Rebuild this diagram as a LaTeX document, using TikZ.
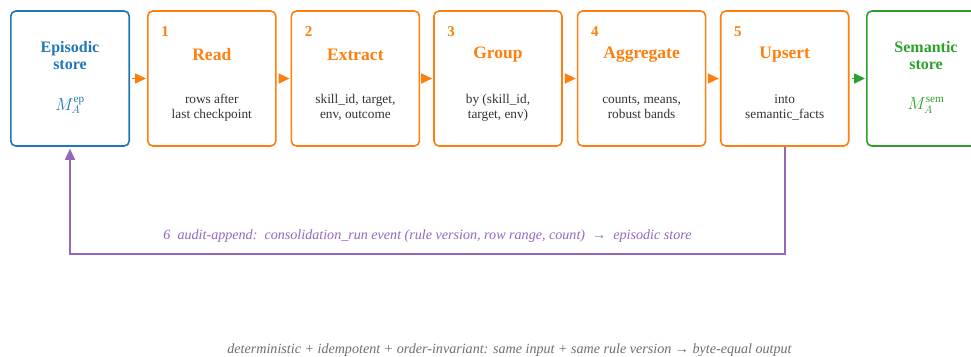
\documentclass[tikz,border=0pt]{standalone}
\usepackage{fontspec}
\setmainfont{Liberation Serif}
\usetikzlibrary{positioning,arrows.meta}
\definecolor{epblue}{HTML}{1F77B4}
\definecolor{stageorange}{HTML}{FF7F0E}
\definecolor{semgreen}{HTML}{2CA02C}
\definecolor{auditpurple}{HTML}{9467BD}
\definecolor{desctext}{HTML}{333333}
\definecolor{notegray}{HTML}{6E6E6E}
\tikzstyle{stage} = [draw=stageorange, line width=1.6pt, rounded corners=5pt, minimum width=128pt, minimum height=135pt, inner sep=0pt]
\tikzstyle{store} = [stage, minimum width=118.4pt]
\tikzstyle{flow} = [-{Triangle[length=11pt,width=10pt]}, line width=1.6pt, shorten <=2pt, shorten >=1pt]
\tikzstyle{stagetitle} = [font=\bfseries\fontsize{17.5}{19}\selectfont, align=center]
\tikzstyle{storetitle} = [font=\bfseries\fontsize{16}{17}\selectfont, align=center]
\tikzstyle{stagenum} = [font=\bfseries\fontsize{15}{17}\selectfont, text=stageorange]
\tikzstyle{stagedesc} = [font=\fontsize{13.3}{15}\selectfont, text=desctext, align=center]
\tikzstyle{storesym} = [font=\fontsize{16}{18}\selectfont]
\tikzstyle{remark} = [font=\itshape\fontsize{14.1}{16}\selectfont]
\newcommand{\stage}[4]{%
  \node [stagenum] (#1-num) at ([xshift=18pt,yshift=-21pt]#1.north west) {#2};
  \node [stagetitle, text=stageorange] (#1-title) at ([yshift=24pt]#1.center) {#3};
  \node [stagedesc] (#1-desc) at ([yshift=-29pt]#1.center) {#4};}

\begin{document}
\begin{tikzpicture}[x=1pt, y=1pt]
  \useasboundingbox (0,0) rectangle (971,-356);
  % stores and stages
  \node [store, draw=epblue] (ep) at (70,-78.5) {};
  \node [stage, right=17pt of ep] (read) {};
  \node [stage, right=14pt of read] (extract) {};
  \node [stage, right=13pt of extract] (group) {};
  \node [stage, right=14pt of group] (aggregate) {};
  \node [stage, right=13.5pt of aggregate] (upsert) {};
  \node [store, draw=semgreen, right=16.5pt of upsert] (sem) {};
  \node [storetitle, text=epblue] (ep-title) at ([yshift=23pt]ep.center) {Episodic\\store};
  \node [storesym, text=epblue] (ep-sym) at ([yshift=-27pt]ep.center) {$M_A^{\mathrm{ep}}$};
  \node [storetitle, text=semgreen] (sem-title) at ([yshift=23pt]sem.center) {Semantic\\store};
  \node [storesym, text=semgreen] (sem-sym) at ([yshift=-27pt]sem.center) {$M_A^{\mathrm{sem}}$};
  \stage{read}{1}{Read}{rows after\\last checkpoint}
  \stage{extract}{2}{Extract}{skill\_id, target,\\env, outcome}
  \stage{group}{3}{Group}{by (skill\_id,\\target, env)}
  \stage{aggregate}{4}{Aggregate}{counts, means,\\robust bands}
  \stage{upsert}{5}{Upsert}{into\\semantic\_facts}
  % forward flow
  \draw [flow, draw=stageorange] (ep) -- (read);
  \draw [flow, draw=stageorange] (read) -- (extract);
  \draw [flow, draw=stageorange] (extract) -- (group);
  \draw [flow, draw=stageorange] (group) -- (aggregate);
  \draw [flow, draw=stageorange] (aggregate) -- (upsert);
  \draw [flow, draw=semgreen] (upsert) -- (sem);
  % audit feedback
  \coordinate (turn) at ([yshift=-107pt]upsert.south);
  \draw [flow, draw=auditpurple, shorten <=0pt, shorten >=2pt] (upsert.south) -- (turn) -| (ep.south);
  \node [remark, text=auditpurple] (audit) at (427.5,-236)
    {6\ \ audit-append:\ \ consolidation\_run event (rule version, row range, count)\ \ →\ \ episodic store};
  \node [remark, text=notegray] (note) at (509.5,-350)
    {deterministic + idempotent + order-invariant: same input + same rule version → byte-equal output};
\end{tikzpicture}
\end{document}
